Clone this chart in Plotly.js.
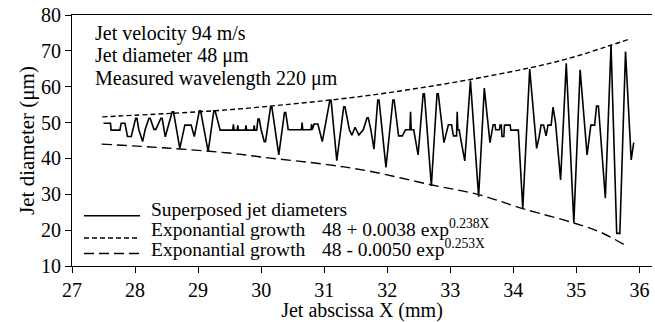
<!DOCTYPE html>
<html><head><meta charset="utf-8">
<script src="https://cdn.plot.ly/plotly-3.0.1.min.js"></script>
<style>
html,body{margin:0;padding:0;background:#fff;}
#chart{width:655px;height:322px;}
</style></head><body><div id="chart"></div>
<script>
const jetX = [27.50,27.61,27.62,27.76,27.78,27.84,27.88,27.94,28.01,28.03,28.06,28.12,28.16,28.22,28.24,28.30,28.33,28.41,28.43,28.48,28.51,28.59,28.61,28.71,28.79,28.89,28.94,29.02,29.04,29.16,29.25,29.27,29.35,29.55,29.56,29.57,29.62,29.63,29.64,29.75,29.76,29.77,29.88,29.89,29.90,29.93,29.95,29.97,30.00,30.05,30.07,30.15,30.17,30.28,30.37,30.39,30.43,30.64,30.65,30.66,30.79,30.80,30.81,30.84,30.90,30.97,31.09,31.11,31.20,31.31,31.33,31.40,31.44,31.49,31.55,31.62,31.68,31.70,31.74,31.79,31.85,31.87,31.98,32.09,32.11,32.18,32.24,32.29,32.36,32.37,32.38,32.42,32.49,32.57,32.59,32.70,32.79,32.81,32.90,32.95,32.97,33.02,33.05,33.10,33.11,33.12,33.14,33.23,33.32,33.45,33.54,33.63,33.68,33.71,33.72,33.78,33.79,33.81,33.82,33.85,33.86,33.95,33.96,34.08,34.15,34.26,34.37,34.41,34.44,34.48,34.52,34.55,34.60,34.63,34.67,34.75,34.84,34.96,35.06,35.17,35.23,35.29,35.30,35.32,35.35,35.46,35.55,35.64,35.69,35.78,35.87,35.91];
const jetD = [49.8,49.8,47.9,47.9,49.8,49.8,46.1,46.1,51.2,51.2,48.0,44.7,48.0,51.2,51.2,48.1,48.1,51.2,51.2,46.0,48.0,53.0,53.0,42.8,49.3,49.3,46.1,53.3,53.3,41.9,53.3,53.3,47.9,47.9,49.5,47.9,47.9,49.2,47.9,47.9,49.2,47.9,47.9,49.2,47.9,47.9,51.0,51.0,48.0,44.7,44.7,54.4,54.4,41.0,52.8,52.8,48.0,48.0,50.0,48.0,48.0,49.6,48.0,49.6,49.6,44.7,56.2,56.2,39.4,54.4,54.4,48.0,46.5,48.7,46.5,48.0,51.3,51.3,48.0,42.6,56.3,56.3,37.5,56.3,56.3,46.3,46.3,48.0,48.0,53.0,48.0,48.0,41.0,58.0,58.0,32.3,58.0,58.0,44.4,48.0,49.4,49.4,46.3,46.3,53.0,48.0,48.0,39.3,61.7,29.3,59.6,44.4,49.4,49.4,48.0,48.0,49.3,49.3,46.1,46.1,49.3,49.3,47.9,47.9,26.1,64.9,42.8,46.0,49.3,49.3,46.3,49.3,49.3,54.3,50.0,34.0,66.5,22.1,64.7,41.0,49.3,49.3,52.0,54.6,54.6,28.9,71.6,19.1,19.1,69.8,39.6,44.4];

// Exponential growth envelopes
const upperX = [27.48,28.5,29.5,30.5,31.5,32.5,33.5,34.5,35.0,35.5,35.83];
const upperD = [51.6,52.5,53.6,55.2,57.1,59.6,62.6,66.2,68.5,71.3,73.2];
const lowerX = [27.47,28.5,29.49,30.14,31.0,31.70,32.71,33.45,34.15,34.96,35.40,35.82];
const lowerD = [44.0,42.9,41.5,40.1,38.4,36.5,32.6,29.9,26.0,22.0,19.3,15.3];

const xTicks = [27,28,29,30,31,32,33,34,35,36];
const yTicks = [10,20,30,40,50,60,70,80];

const infoLines = ['Jet velocity 94 m/s','Jet diameter 48 \u03bcm','Measured wavelength 220 \u03bcm'];
const legendLabels = ['Superposed jet diameters','Exponantial growth','Exponantial growth'];
const legendFormulas = ['','48 + 0.0038 exp<sup>0.238X</sup>','48 - 0.0050 exp<sup>0.253X</sup>'];
const legendDash = ['solid','5px,3px','10px,5px'];

const FONT = 'Liberation Serif';
const W = 655, H = 322, ML = 72, MR = 3, MT = 15, MB = 56;
const PW = W - ML - MR, PH = H - MT - MB;
const px = v => (v - ML) / PW;          // pixel -> paper x
const py = v => (H - MB - v) / PH;      // pixel -> paper y

const traces = [
  {x: jetX, y: jetD, mode: 'lines', line: {color: '#000', width: 1.6}, hoverinfo: 'skip'},
  {x: upperX, y: upperD, mode: 'lines', line: {color: '#000', width: 1.4, dash: legendDash[1], shape: 'spline'}, hoverinfo: 'skip'},
  {x: lowerX, y: lowerD, mode: 'lines', line: {color: '#000', width: 1.4, dash: legendDash[2], shape: 'spline'}, hoverinfo: 'skip'}
];

const annotations = [];
const infoY = [33, 56, 78];
infoLines.forEach((t, i) => annotations.push({
  xref: 'paper', yref: 'paper', x: px(93), y: py(infoY[i]), xanchor: 'left', yanchor: 'middle', align: 'left',
  text: t, showarrow: false, font: {family: FONT, size: 20, color: '#000'}
}));
const baseY = [216.7, 237.2, 256.7];
const sampleY = [215.7, 238, 253.5];
const shapes = [];
legendLabels.forEach((t, i) => {
  annotations.push({xref: 'paper', yref: 'paper', x: px(149), y: py(baseY[i] + 5), xanchor: 'left', yanchor: 'bottom', align: 'left',
    text: t, showarrow: false, font: {family: FONT, size: 19.5, color: '#000'}});
  if (legendFormulas[i]) annotations.push({xref: 'paper', yref: 'paper', x: px(320), y: py(baseY[i] + 5), xanchor: 'left', yanchor: 'bottom', align: 'left',
    text: legendFormulas[i], showarrow: false, font: {family: FONT, size: 19.5, color: '#000'}});
  shapes.push({type: 'line', xref: 'paper', yref: 'paper', x0: px(84), x1: px(140), y0: py(sampleY[i]), y1: py(sampleY[i]),
    line: {color: '#000', width: 1.4, dash: legendDash[i]}});
});

const layout = {
  width: W, height: H,
  margin: {l: ML, r: MR, t: MT, b: MB},
  paper_bgcolor: '#fff', plot_bgcolor: '#fff',
  showlegend: false,
  font: {family: FONT, size: 20, color: '#000'},
  xaxis: {range: [27, 36.2], tickvals: xTicks, ticktext: xTicks.map(String), ticks: 'outside', ticklen: 6, tickwidth: 1, tickcolor: '#000',
    showline: true, linecolor: '#000', linewidth: 1, mirror: true, showgrid: false, zeroline: false,
    tickfont: {family: FONT, size: 20}, title: {text: 'Jet abscissa X (mm)', font: {family: FONT, size: 20}, standoff: 4}},
  yaxis: {range: [10, 80], tickvals: yTicks, ticktext: yTicks.map(String), ticks: 'outside', ticklen: 6, tickwidth: 1, tickcolor: '#000',
    showline: true, linecolor: '#000', linewidth: 1, mirror: false, showgrid: false, zeroline: false,
    tickfont: {family: FONT, size: 20}, title: {text: 'Jet diameter (\u03bcm)', font: {family: FONT, size: 21}, standoff: 0}},
  annotations: annotations,
  shapes: shapes
};

Plotly.newPlot('chart', traces, layout, {staticPlot: true, displayModeBar: false});
</script></body></html>
